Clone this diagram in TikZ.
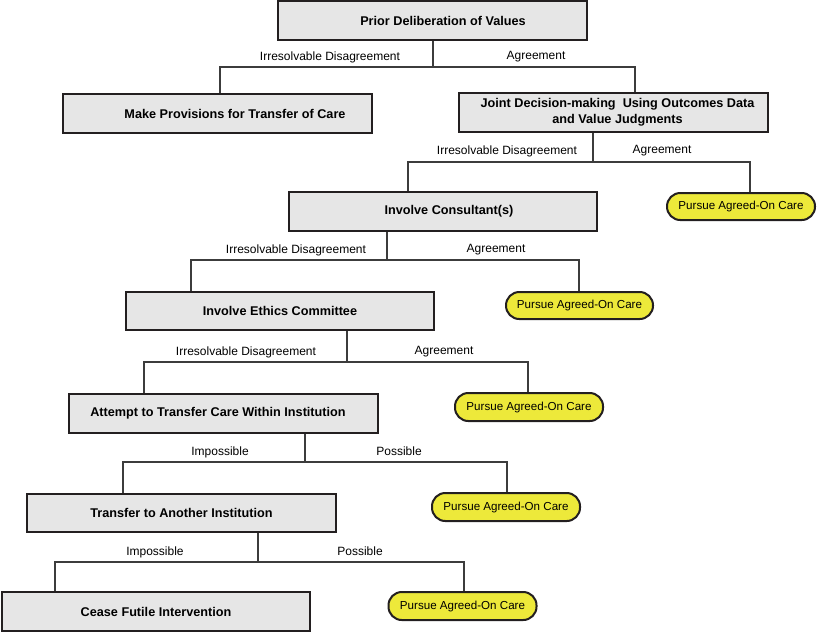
\documentclass[tikz,border=0pt]{standalone}
\usepackage{fontspec}
\setmainfont{Liberation Sans}
\usetikzlibrary{backgrounds}
\newlength\px \setlength\px{0.75pt}
\definecolor{boxfill}{RGB}{230,230,230}
\definecolor{boxline}{RGB}{35,31,32}
\definecolor{pillfill}{RGB}{237,233,58}
\definecolor{connline}{RGB}{60,60,60}
\begin{document}
\begin{tikzpicture}[x=0.75pt,y=-0.75pt,
  box/.style={draw=boxline, line width=1.5pt, fill=boxfill, inner sep=0pt,
    minimum width=309*0.75pt, minimum height=39*0.75pt,
    font=\bfseries\fontsize{9.5}{12}\selectfont, align=center},
  pill/.style={draw=boxline, line width=1.5pt, fill=pillfill, inner sep=0pt,
    rounded corners=10pt, minimum width=148*0.75pt, minimum height=28*0.75pt,
    font=\fontsize{8.7}{10}\selectfont},
  lab/.style={inner sep=0pt, font=\fontsize{9}{11}\selectfont},
  conn/.style={draw=connline, line width=1pt}]
\useasboundingbox (0,0) rectangle (817,633);

% boxes
\node[box] (prior) at (432.5,20.5) {\hspace*{21\px}Prior Deliberation of Values};
\node[box] (make) at (217.5,113.5) {\hspace*{35\px}Make Provisions for Transfer of Care};
\node[box] (joint) at (613.5,112.5) {\hspace*{8\px}Joint Decision-making\ \ Using Outcomes Data\\\hspace*{8\px}and Value Judgments};
\node[box, minimum width=308*0.75pt] (consult) at (443,211.5) {\hspace*{12\px}Involve Consultant(s)};
\node[box, minimum width=308*0.75pt, minimum height=38*0.75pt] (ethics) at (280,311) {Involve Ethics Committee};
\node[box] (attempt) at (223.5,413.5) {Attempt to Transfer Care Within Institution\hspace*{11\px}};
\node[box, minimum height=38*0.75pt] (transfer) at (181.5,513) {Transfer to Another Institution};
\node[box, minimum width=308*0.75pt] (cease) at (156,611.5) {Cease Futile Intervention};

% pills
\node[pill, minimum height=27*0.75pt] (p1) at (741,206.5) {Pursue Agreed-On Care};
\node[pill, minimum width=147*0.75pt, minimum height=27*0.75pt] (p2) at (579.5,305.5) {Pursue Agreed-On Care};
\node[pill] (p3) at (529,407) {Pursue Agreed-On Care};
\node[pill] (p4) at (506,507) {Pursue Agreed-On Care};
\node[pill] (p5) at (462.5,606) {Pursue Agreed-On Care};

% labels
\node[lab] (d1) at (330,57) {Irresolvable Disagreement};
\node[lab] (a1) at (536,57) {Agreement};
\node[lab] (d2) at (507,151) {Irresolvable Disagreement};
\node[lab] (a2) at (662,151) {Agreement};
\node[lab] (d3) at (296,250) {Irresolvable Disagreement};
\node[lab] (a3) at (496,250) {Agreement};
\node[lab] (d4) at (246,352) {Irresolvable Disagreement};
\node[lab] (a4) at (444,352) {Agreement};
\node[lab] (d5) at (220,452) {Impossible};
\node[lab] (a5) at (399,451) {Possible};
\node[lab] (d6) at (155,552) {Impossible};
\node[lab] (a6) at (360,551) {Possible};

% junction coordinates
\coordinate (j1) at (433,67);  \coordinate (l1) at (220,67);  \coordinate (r1) at (635,67);
\coordinate (j2) at (593,162); \coordinate (l2) at (408,162); \coordinate (r2) at (750,162);
\coordinate (j3) at (387,260); \coordinate (l3) at (191,260); \coordinate (r3) at (579,260);
\coordinate (j4) at (347,362); \coordinate (l4) at (144,362); \coordinate (r4) at (528,362);
\coordinate (j5) at (305,462); \coordinate (l5) at (123,462); \coordinate (r5) at (507,462);
\coordinate (j6) at (258,562); \coordinate (l6) at (55,562);  \coordinate (r6) at (464,562);

\begin{pgfonlayer}{background}
\draw[conn] (j1 |- prior.south) -- (j1);
\draw[conn] (l1 |- make.north) -- (l1) -- (r1) -- (r1 |- joint.north);
\draw[conn] (j2 |- joint.south) -- (j2);
\draw[conn] (l2 |- consult.north) -- (l2) -- (r2) -- (r2 |- p1.north);
\draw[conn] (j3 |- consult.south) -- (j3);
\draw[conn] (l3 |- ethics.north) -- (l3) -- (r3) -- (r3 |- p2.north);
\draw[conn] (j4 |- ethics.south) -- (j4);
\draw[conn] (l4 |- attempt.north) -- (l4) -- (r4) -- (r4 |- p3.north);
\draw[conn] (j5 |- attempt.south) -- (j5);
\draw[conn] (l5 |- transfer.north) -- (l5) -- (r5) -- (r5 |- p4.north);
\draw[conn] (j6 |- transfer.south) -- (j6);
\draw[conn] (l6 |- cease.north) -- (l6) -- (r6) -- (r6 |- p5.north);
\end{pgfonlayer}
\end{tikzpicture}
\end{document}
